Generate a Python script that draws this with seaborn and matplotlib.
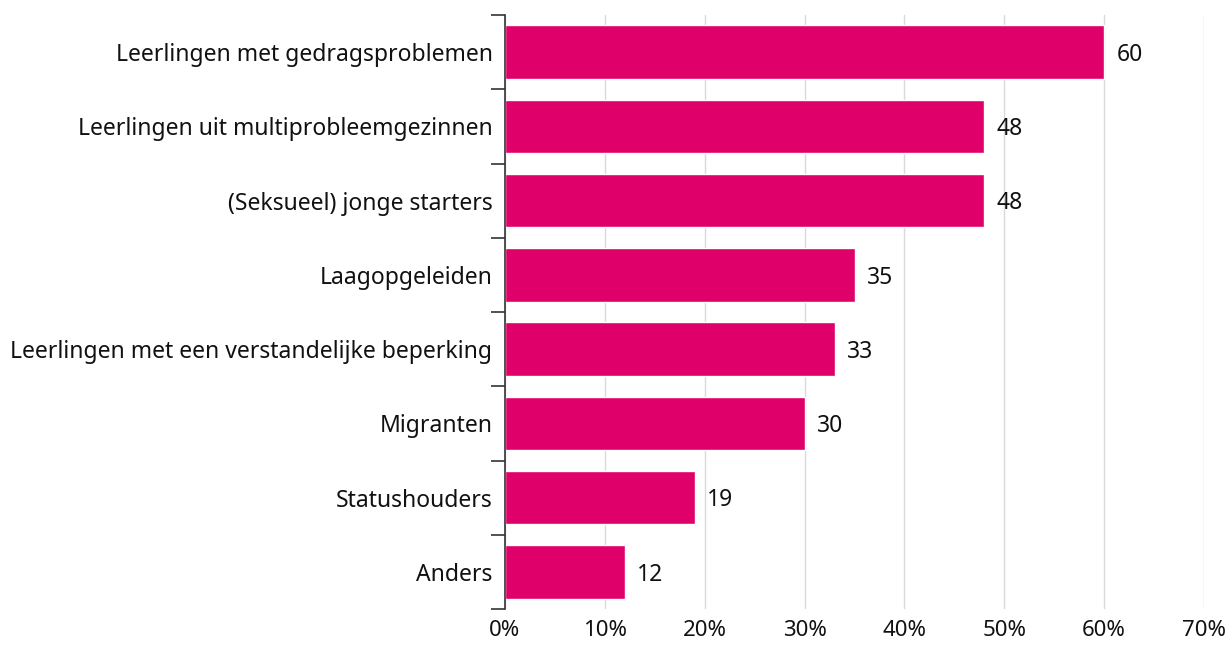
import matplotlib
matplotlib.use("Agg")
import matplotlib.pyplot as plt
import matplotlib.ticker as mticker
import seaborn as sns
import pandas as pd
import numpy as np

categories = [
    "Leerlingen met gedragsproblemen",
    "Leerlingen uit multiprobleemgezinnen",
    "(Seksueel) jonge starters",
    "Laagopgeleiden",
    "Leerlingen met een verstandelijke beperking",
    "Migranten",
    "Statushouders",
    "Anders",
]
values = [60, 48, 48, 35, 33, 30, 19, 12]
x_ticks = [0, 10, 20, 30, 40, 50, 60, 70]

sns.set_theme(style="white")
plt.rcParams["font.family"] = ["Noto Sans", "DejaVu Sans"]

df = pd.DataFrame({"cat": categories, "val": values})

fig = plt.figure(figsize=(12.32, 6.45), dpi=100)
ax = fig.add_axes([505 / 1232, 1 - 609 / 645, (1204 - 505) / 1232, (609 - 15) / 645])

sns.barplot(data=df, y="cat", x="val", orient="h", color="#E0006A",
            saturation=1, width=0.72, ax=ax, order=categories)

ax.set_xlim(0, 70)
ax.set_ylim(len(categories) - 0.5, -0.5)
ax.set_xticks(x_ticks)
ax.xaxis.set_major_formatter(mticker.FuncFormatter(lambda v, p: f"{int(v)}%"))
ax.set_xlabel("")
ax.set_ylabel("")
ax.grid(axis="x", color="#d9d9d9", linewidth=1)
ax.set_axisbelow(True)
for s in ["top", "right", "bottom"]:
    ax.spines[s].set_visible(False)
ax.spines["left"].set_color("#333333")
ax.spines["left"].set_linewidth(1.2)

ax.tick_params(axis="x", length=0, labelsize=16, colors="#111111", pad=8)
ax.tick_params(axis="y", which="major", length=0, labelsize=16.5, colors="#111111", pad=9)
ax.set_yticks(np.arange(-0.5, len(categories), 1.0), minor=True)
ax.tick_params(axis="y", which="minor", left=True, length=10, width=1.2, color="#333333")

for i, v in enumerate(values):
    ax.annotate(f"{v}", xy=(v, i), xytext=(9, -2), textcoords="offset points",
                va="center", ha="left", fontsize=16.5, color="#111111")

fig.savefig("out.png", dpi=100)
